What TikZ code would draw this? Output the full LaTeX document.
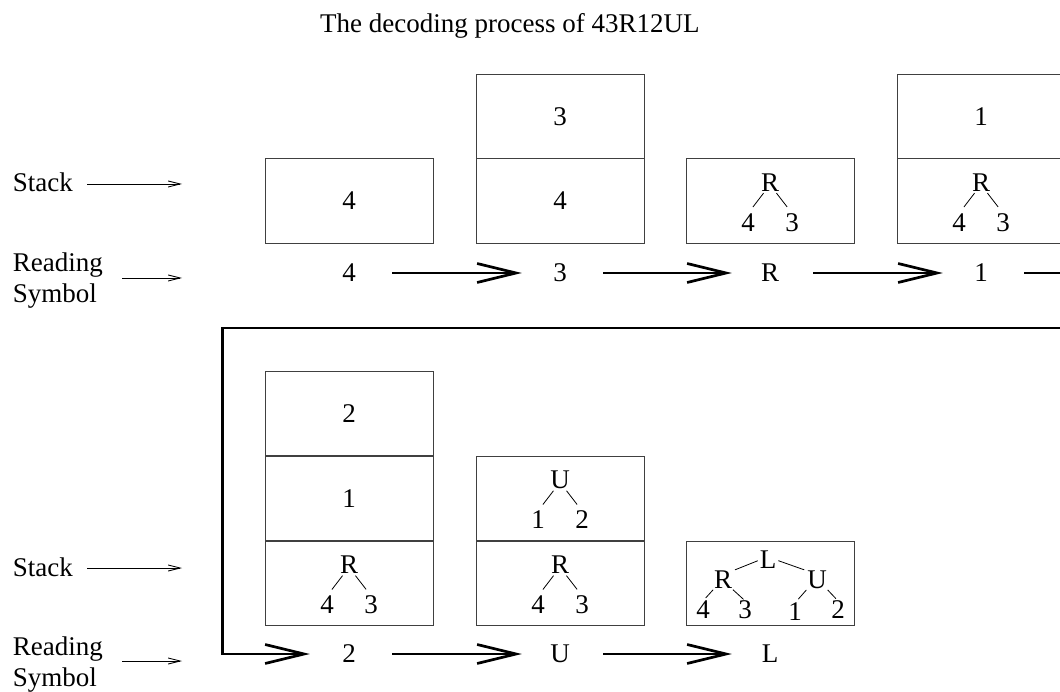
\documentclass[tikz,border=0pt]{standalone}
\usepackage{fontspec}
\setmainfont{Liberation Serif}
\usetikzlibrary{arrows.meta}

% root with two children, root centre at (#2,#3)
\newcommand{\bintree}[6]{%
  \node[sym] (#1) at (#2,#3) {#4};
  \node[sym] (#1l) at (#2-22,#3+40) {#5};
  \node[sym] (#1r) at (#2+22,#3+40) {#6};
  \draw[twig] (#1.-120) -- (#1l.north);
  \draw[twig] (#1.-60) -- (#1r.north);
}

\begin{document}
\begin{tikzpicture}[x=1pt,y=-1pt,
  font=\fontsize{27}{31}\selectfont,
  cell/.style={draw=black!75, line width=1pt, minimum width=168pt, minimum height=84.5pt, inner sep=0pt},
  sym/.style={inner sep=0pt},
  read/.style={inner sep=0pt, minimum width=80pt},
  twig/.style={line width=0.8pt, shorten <=2pt, shorten >=8pt},
  flow/.style={line width=2.7pt, -{Straight Barb[length=39pt,width=19pt]}, shorten <=3pt, shorten >=-2pt},
  hint/.style={line width=0.9pt, -{Straight Barb[length=12pt,width=6pt]}}]

\useasboundingbox (0,0) rectangle (1060,692);

\node[sym, anchor=base west] (title) at (320,33) {The decoding process of 43R12UL};

% first row
\node[sym, anchor=base west] (stack1) at (12.7,192) {Stack};
\coordinate (stackTo1) at (182,184);
\draw[hint, shorten <=14pt] (stack1.east |- stackTo1) -- (stackTo1);
\node[sym, anchor=west, align=left] (read1) at (12.7,281) {Reading\\Symbol};
\coordinate (readTo1) at (182,278);
\draw[hint, shorten <=19pt] (read1.east |- readTo1) -- (readTo1);

\node[cell] (a1) at (349,201) {4};
\node[cell] (a2t) at (560,116.5) {3};
\node[cell] (a2) at (560,201) {4};
\node[cell] (a3) at (770,201) {};
\bintree{t3}{770}{182.5}{R}{4}{3}
\node[cell] (a4t) at (981,116.5) {1};
\node[cell] (a4) at (981,201) {};
\bintree{t4}{981}{182.5}{R}{4}{3}

\node[read] (s1) at (349,273) {4};
\node[read] (s2) at (560,273) {3};
\node[read] (s3) at (770,273) {R};
\node[read] (s4) at (981,273) {1};
\draw[flow] (s1) -- (s2);
\draw[flow] (s2) -- (s3);
\draw[flow] (s3) -- (s4);

% second row
\node[sym, anchor=base west] (stack2) at (12.7,576) {Stack};
\coordinate (stackTo2) at (182,568);
\draw[hint, shorten <=14pt] (stack2.east |- stackTo2) -- (stackTo2);
\node[sym, anchor=west, align=left] (read2) at (12.7,665) {Reading\\Symbol};
\coordinate (readTo2) at (182,661);
\draw[hint, shorten <=19pt] (read2.east |- readTo2) -- (readTo2);

\node[cell] (b1t) at (349,413.5) {2};
\node[cell] (b1m) at (349,498.5) {1};
\node[cell] (b1) at (349,583.5) {};
\bintree{p1}{349}{565}{R}{4}{3}
\node[cell] (b2t) at (560,498.5) {};
\bintree{p2}{560}{480}{U}{1}{2}
\node[cell] (b2) at (560,583.5) {};
\bintree{p3}{560}{565}{R}{4}{3}
\node[cell] (b3) at (770,583.5) {};

% whole tree
\node[sym] (fl) at (768,560) {L};
\node[sym] (fr) at (723,580) {R};
\node[sym] (fu) at (817,580) {U};
\node[sym] (f4) at (703,610) {4};
\node[sym] (f3) at (745,610) {3};
\node[sym] (f1) at (795,612) {1};
\node[sym] (f2) at (838,610) {2};
\draw[twig, shorten <=2pt, shorten >=3pt] (fl.west) -- (fr.north east);
\draw[twig, shorten <=2pt, shorten >=3pt] (fl.east) -- (fu.north west);
\draw[twig, shorten <=1pt, shorten >=4pt] (fr.south west) -- (f4.north);
\draw[twig, shorten <=1pt, shorten >=2pt] (fr.south east) -- (f3.north);
\draw[twig, shorten <=1pt, shorten >=5pt] (fu.south west) -- (f1.north);
\draw[twig, shorten <=1pt, shorten >=3pt] (fu.south east) -- (f2.north);

\node[read] (u1) at (349,654) {2};
\node[read] (u2) at (560,654) {U};
\node[read] (u3) at (770,654) {L};
\draw[flow] (u1) -- (u2);
\draw[flow] (u2) -- (u3);

% wrap from first row to second
\coordinate (turnA) at (1075,273);
\coordinate (turnB) at (1075,328);
\coordinate (turnC) at (222.5,328);
\draw[flow, shorten >=-1pt] (s4) -- (turnA) -- (turnB) -- (turnC) -- (turnC |- u1) -- (u1);
\end{tikzpicture}
\end{document}
